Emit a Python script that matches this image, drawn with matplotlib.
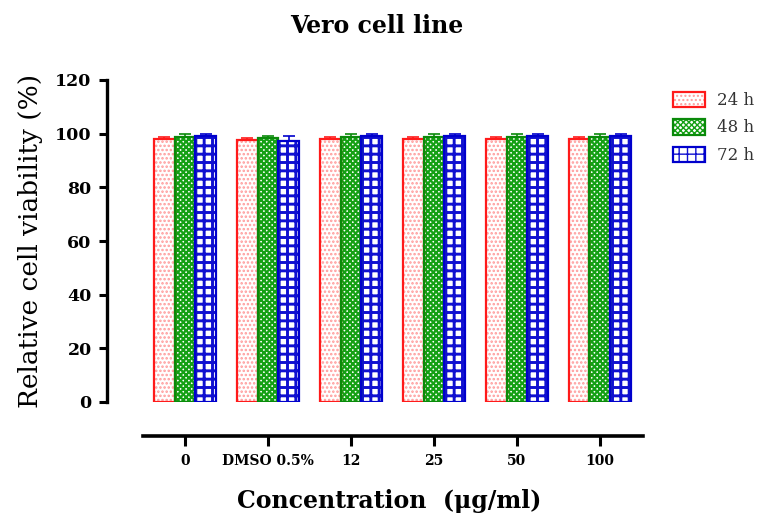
import matplotlib
matplotlib.use("Agg")
import matplotlib.pyplot as plt
import numpy as np

categories = ["0", "DMSO 0.5%", "12", "25", "50", "100"]
series_labels = ["24 h", "48 h", "72 h"]
v24 = [98.0, 97.8, 98.0, 98.0, 98.0, 98.0]
v48 = [98.8, 98.2, 98.8, 98.8, 98.8, 98.8]
v72 = [99.3, 97.2, 99.3, 99.3, 99.3, 99.3]
e24 = [0.9, 0.5, 0.9, 0.9, 0.9, 0.9]
e48 = [1.2, 1.0, 1.2, 1.2, 1.2, 1.2]
e72 = [0.5, 1.8, 0.5, 0.5, 0.5, 0.5]
yticks = [0, 20, 40, 60, 80, 100, 120]

serif = ["DejaVu Serif", "Liberation Serif"]
plt.rcParams["font.family"] = serif

fig = plt.figure(figsize=(7.57, 5.18), dpi=100)
ax = fig.add_axes([107/757, 1-402/518, (643-107)/757, (402-80)/518])

x = np.arange(len(categories))
w = 0.25
styles = [
    dict(edge="#ff1a1a", hatchc="#ff9a9a", hatch="....", hlw=1.2),
    dict(edge="#0a8a0a", hatchc="#14a014", hatch="xxxxxx", hlw=1.6),
    dict(edge="#0000cc", hatchc="#1010d0", hatch="++", hlw=2.1),
]
handles = []
for i, (vals, errs, st, lab) in enumerate(zip([v24, v48, v72], [e24, e48, e72], styles, series_labels)):
    pos = x + (i - 1) * w
    with plt.rc_context({"hatch.linewidth": st["hlw"]}):
        ax.bar(pos, vals, w, color="white", edgecolor=st["hatchc"], hatch=st["hatch"], linewidth=0, zorder=2)
        h = matplotlib.patches.Patch(facecolor="white", edgecolor=st["hatchc"], hatch=st["hatch"], linewidth=0)
    ax.bar(pos, vals, w, facecolor="none", edgecolor=st["edge"], linewidth=1.6, zorder=3)
    ax.errorbar(pos, vals, yerr=[np.zeros(len(errs)), errs], fmt="none", ecolor=st["edge"],
                elinewidth=1.2, capsize=4.5, capthick=1.2, zorder=4)
    h2 = matplotlib.patches.Patch(facecolor="none", edgecolor=st["edge"], linewidth=1.6)
    handles.append((h, h2))

ax.set_xlim(-0.94, 5.52)
ax.set_ylim(0, 120)
ax.set_yticks(yticks)
ax.set_xticks(x)
ax.set_xticklabels(categories)

for s in ["top", "right"]:
    ax.spines[s].set_visible(False)
ax.spines["left"].set_linewidth(2.4)
ax.spines["left"].set_bounds(0, 120)
ax.spines["bottom"].set_linewidth(2.6)
ax.spines["bottom"].set_position(("outward", 24.5))
ax.spines["bottom"].set_bounds(-0.51, 5.52)
ax.tick_params(axis="y", direction="out", length=6, width=2.2, labelsize=12.5, pad=5)
ax.tick_params(axis="x", direction="out", length=7, width=2.2, labelsize=10, pad=6)
for t in ax.get_yticklabels() + ax.get_xticklabels():
    t.set_fontweight("bold")

ax.set_ylabel("Relative cell viability (%)", fontsize=19, labelpad=9)
ax.set_xlabel("Concentration  (\u03bcg/ml)", fontsize=17, fontweight="bold", labelpad=14)
ax.xaxis.set_label_coords((389-107)/536, -0.27)
fig.text(377/757, 1-26/518, "Vero cell line", ha="center", va="center", fontsize=17, fontweight="bold")

leg = ax.legend(handles, series_labels, loc="upper left", bbox_to_anchor=(666/757, 1-85/518),
                bbox_transform=fig.transFigure, frameon=False, fontsize=12,
                handlelength=1.92, handleheight=1.05, labelspacing=0.6, handletextpad=0.75,
                borderpad=0.4, borderaxespad=0, labelcolor="#333333")

fig.savefig("out.png", dpi=100)
